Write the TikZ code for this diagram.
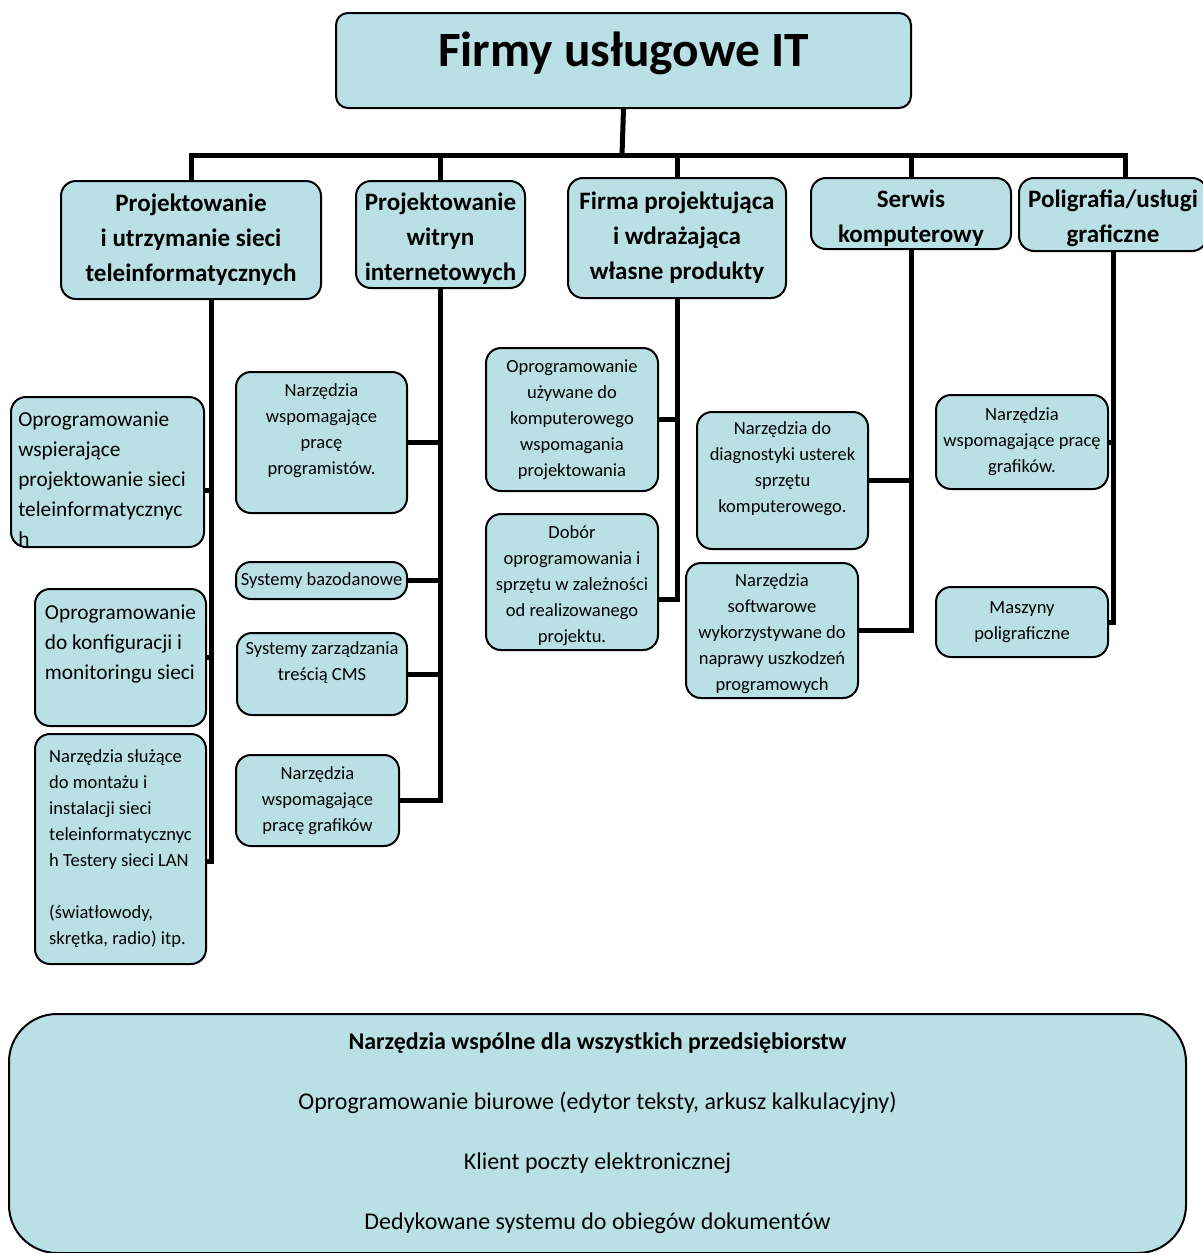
\documentclass[tikz,border=0pt]{standalone}
\usepackage{fontspec}
\setmainfont{Carlito}

\definecolor{boxfill}{RGB}{185,224,228}
\newlength\px
\setlength\px{0.75pt}

\newcommand\rootfont{\fontsize{37pt}{44pt}\selectfont\bfseries}
\newcommand\groupfont{\fontsize{18.8pt}{26.25pt}\selectfont\bfseries}
\newcommand\itemfont{\fontsize{13.9pt}{19.5pt}\selectfont}
\newcommand\wideitemfont{\fontsize{16pt}{22.5pt}\selectfont}
\newcommand\commonfont{\fontsize{18pt}{45pt}\selectfont}

\tikzset{
  box/.style={draw=black, line width=1.5pt, fill=boxfill, rounded corners=15\px,
    inner sep=0pt, anchor=north west, align=center},
  link/.style={draw=black, line width=5\px},
  boxtext/.style={inner sep=0pt}
}

\begin{document}
\begin{tikzpicture}[x=1\px, y=-1\px]
        \useasboundingbox (0,0) rectangle (1203,1253);

        % root
        \node[box, rounded corners=12\px, minimum width=575\px, minimum height=95\px,
              text height=39.75pt, text depth=31.5pt, font=\rootfont] (root) at (335,12) {Firmy usługowe IT};

        % groups
        \node[box, minimum width=260\px, minimum height=118\px, font=\groupfont] (A) at (60,180) {Projektowanie\\i utrzymanie sieci\\teleinformatycznych};
        \node[box, minimum width=169\px, minimum height=107\px, text height=74.25pt, text depth=6pt, font=\groupfont] (B) at (355,180) {Projektowanie\\witryn\\internetowych};
        \node[box, minimum width=218\px, minimum height=120\px, font=\groupfont] (C) at (567,177) {Firma projektująca\\i wdrażająca\\własne produkty};
        \node[box, minimum width=200\px, minimum height=71\px, text height=48pt, text depth=5.25pt, font=\groupfont] (D) at (810,177) {Serwis\\komputerowy};
        \node[box, minimum width=188\px, minimum height=73\px, text height=48pt, text depth=6.75pt, font=\groupfont] (E) at (1018,177) {Poligrafia/usługi\\graficzne};

        % items
        \node[box, minimum width=193\px, minimum height=150\px] (A1) at (10,396) {};
        \node[box, minimum width=171\px, minimum height=137\px, align=left, font=\wideitemfont] (A2) at (34,588) {Oprogramowanie\\do konfiguracji i\\monitoringu sieci\\~};
        \node[box, minimum width=171\px, minimum height=230\px, align=left, font=\itemfont] (A3) at (34,733) {Narzędzia służące\\do montażu i\\instalacji sieci\\teleinformatycznyc\\h Testery sieci LAN\\~\\(światłowody,\\skrętka, radio) itp.};

        \node[box, minimum width=171\px, minimum height=141\px, font=\itemfont] (B1) at (235,371) {Narzędzia\\wspomagające\\pracę\\programistów.\\~};
        \node[box, minimum width=171\px, minimum height=37\px, font=\itemfont] (B2) at (235,561) {Systemy bazodanowe};
        \node[box, minimum width=170\px, minimum height=82\px, font=\itemfont] (B3) at (236,632) {Systemy zarządzania\\treścią CMS\\~};
        \node[box, minimum width=163\px, minimum height=91\px, font=\itemfont] (B4) at (235,754) {Narzędzia\\wspomagające\\pracę grafików};

        \node[box, minimum width=172\px, minimum height=143\px, font=\itemfont] (C1) at (485,347) {Oprogramowanie\\używane do\\komputerowego\\wspomagania\\projektowania};
        \node[box, minimum width=172\px, minimum height=136\px] (C2) at (485,513) {};

        \node[box, minimum width=171\px, minimum height=137\px, font=\itemfont] (D1) at (696,411) {Narzędzia do\\diagnostyki usterek\\sprzętu\\komputerowego.\\~};
        \node[box, minimum width=172\px, minimum height=135\px] (D2) at (685,562) {};

        \node[box, minimum width=172\px, minimum height=94\px, font=\itemfont] (E1) at (935,394) {Narzędzia\\wspomagające pracę\\grafików.};
        \node[box, minimum width=172\px, minimum height=70\px, font=\itemfont] (E2) at (935,586) {Maszyny\\poligraficzne};

        % texts that run out of their boxes
        \begin{scope}
            \clip[rounded corners=15\px] ([xshift=1.5pt,yshift=-1.5pt]A1.north west) rectangle ([xshift=-1.5pt,yshift=1.5pt]A1.south east);
            \node[boxtext, anchor=west, align=left, font=\wideitemfont] (A1text) at ([xshift=8\px,yshift=-7\px]A1.west)
                {Oprogramowanie\\wspierające\\projektowanie sieci\\teleinformatycznyc\\h};
        \end{scope}
        \begin{scope}
            \clip[rounded corners=15\px] ([xshift=1.5pt,yshift=-1.5pt]C2.north west) rectangle ([xshift=-1.5pt,yshift=1.5pt]C2.south east);
            \node[boxtext, align=center, font=\itemfont] (C2text) at ([yshift=-4\px]C2.center)
                {Dobór\\oprogramowania i\\sprzętu w zależności\\od realizowanego\\projektu.};
        \end{scope}
        \begin{scope}
            \clip[rounded corners=15\px] ([xshift=1.5pt,yshift=-1.5pt]D2.north west) rectangle ([xshift=-1.5pt,yshift=1.5pt]D2.south east);
            \node[boxtext, align=center, font=\itemfont] (D2text) at ([yshift=-3\px]D2.center)
                {Narzędzia\\softwarowe\\wykorzystywane do\\naprawy uszkodzeń\\programowych};
        \end{scope}

        % common tools
        \node[box, rounded corners=48\px, minimum width=1177\px, minimum height=239\px, font=\commonfont] (common) at (8,1013)
              {\textbf{Narzędzia wspólne dla wszystkich przedsiębiorstw}\\Oprogramowanie biurowe (edytor teksty, arkusz kalkulacyjny)\\Klient poczty elektronicznej\\Dedykowane systemu do obiegów dokumentów};

        % bus
        \coordinate (bus) at (622,155);
        \draw[link] (root.south) -- (bus);
        \draw[link] (A.north) |- ([xshift=12\px]E.north |- bus) -- ([xshift=12\px]E.north);
        \foreach \n in {B,C,D}
            \draw[link] (\n.north) -- (\n.north |- bus);

        % spines
        \coordinate (sA) at ([xshift=20\px]A.south);
        \draw[link] (sA) |- ([yshift=-12\px]A3.east);
        \draw[link] ([yshift=-18\px]A1.east) -- ([yshift=-18\px]A1.east -| sA);
        \draw[link] (A2.east) -- (A2.east -| sA);

        \draw[link] (B.south) |- (B4.east);
        \foreach \n in {B1,B2,B3}
            \draw[link] (\n.east) -- (\n.east -| B.south);

        \draw[link] (C.south) |- ([yshift=-17\px]C2.east);
        \draw[link] (C1.east) -- (C1.east -| C.south);

        \draw[link] (D.south) |- (D2.east);
        \draw[link] (D1.east) -- (D1.east -| D.south);

        \draw[link] (E.south) |- (E2.east);
        \draw[link] (E1.east) -- (E1.east -| E.south);
\end{tikzpicture}
\end{document}
